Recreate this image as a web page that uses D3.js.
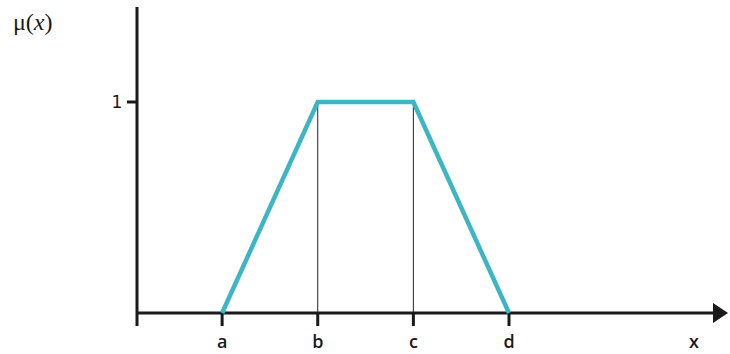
<!DOCTYPE html>
<html lang="en">
<head>
  <meta charset="UTF-8">
  <title>Trapezoidal membership function</title>
  <style>
    body { margin: 0; background: #fff; }
    .axis-line { stroke: #1a1a1a; stroke-width: 3px; fill: none; }
    .guide { stroke: #222; stroke-width: 1px; }
    .tick-label { font-family: 'DejaVu Sans', sans-serif; font-size: 17px; fill: #1a1a1a; }
    .x-label { font-family: 'Open Sans', sans-serif; font-weight: 600; font-size: 18px; }
  </style>
</head>
<body>
  <svg id="chart" width="730" height="354"></svg>

  <script src="https://d3js.org/d3.v7.min.js"></script>
  <script>
    // breakpoints of the trapezoid and their labels
    const pointLabels = ['a', 'b', 'c', 'd'];
    const pointX = [1, 2, 3, 4];
    const membership = [0, 1, 1, 0];
    const yTicks = [1];

    const svg = d3.select('#chart');

    const x = d3.scaleLinear().domain([0.11, 6.29]).range([137, 728]);
    const y = d3.scaleLinear().domain([0, 1]).range([313, 102]);
    const yTop = 1.45;

    const points = pointX.map((v, i) => ({ x: v, mu: membership[i], label: pointLabels[i] }));

    // thin guides under the plateau
    svg.append('g')
      .selectAll('line')
      .data(points.filter(d => d.mu === 1))
      .enter().append('line')
      .attr('class', 'guide')
      .attr('x1', d => x(d.x)).attr('x2', d => x(d.x))
      .attr('y1', d => y(d.mu)).attr('y2', y(0));

    // y axis
    svg.append('line')
      .attr('class', 'axis-line')
      .attr('x1', x(0.11)).attr('x2', x(0.11))
      .attr('y1', y(yTop)).attr('y2', y(0) + 13);

    svg.append('g')
      .selectAll('line')
      .data(yTicks)
      .enter().append('line')
      .attr('class', 'axis-line')
      .attr('x1', x(0.11) - 10).attr('x2', x(0.11))
      .attr('y1', d => y(d)).attr('y2', d => y(d));

    svg.append('g')
      .selectAll('text')
      .data(yTicks)
      .enter().append('text')
      .attr('class', 'tick-label')
      .attr('x', x(0.11) - 20)
      .attr('y', d => y(d) + 6)
      .attr('text-anchor', 'middle')
      .text(d => d);

    // x axis with arrow
    svg.append('line')
      .attr('class', 'axis-line')
      .attr('x1', x(0.11)).attr('x2', x(6.29) - 12)
      .attr('y1', y(0)).attr('y2', y(0));

    svg.append('path')
      .attr('d', `M${x(6.29) - 15},${y(0) - 10}L${x(6.29)},${y(0)}L${x(6.29) - 15},${y(0) + 10}Z`)
      .attr('fill', '#1a1a1a');

    svg.append('g')
      .selectAll('line')
      .data(points)
      .enter().append('line')
      .attr('class', 'axis-line')
      .attr('x1', d => x(d.x)).attr('x2', d => x(d.x))
      .attr('y1', y(0)).attr('y2', y(0) + 13);

    svg.append('g')
      .selectAll('text')
      .data(points)
      .enter().append('text')
      .attr('class', 'tick-label x-label')
      .attr('x', d => x(d.x))
      .attr('y', y(0) + 35)
      .attr('text-anchor', 'middle')
      .text(d => d.label);

    svg.append('text')
      .attr('class', 'tick-label x-label')
      .attr('x', 694)
      .attr('y', y(0) + 35)
      .attr('text-anchor', 'middle')
      .text('x');

    // membership curve
    const line = d3.line().x(d => x(d.x)).y(d => y(d.mu));
    svg.append('path')
      .datum(points)
      .attr('d', line)
      .attr('fill', 'none')
      .attr('stroke', '#3db6c4')
      .attr('stroke-width', 4.5)
      .attr('stroke-linejoin', 'miter');

    // y label
    const yl = svg.append('text')
      .attr('x', 13)
      .attr('y', 30)
      .attr('font-family', "'Liberation Serif', serif")
      .attr('font-size', 24)
      .attr('fill', '#1a1a1a');
    yl.append('tspan').text('μ(');
    yl.append('tspan').attr('font-style', 'italic').text('x');
    yl.append('tspan').text(')');
  </script>
</body>
</html>
